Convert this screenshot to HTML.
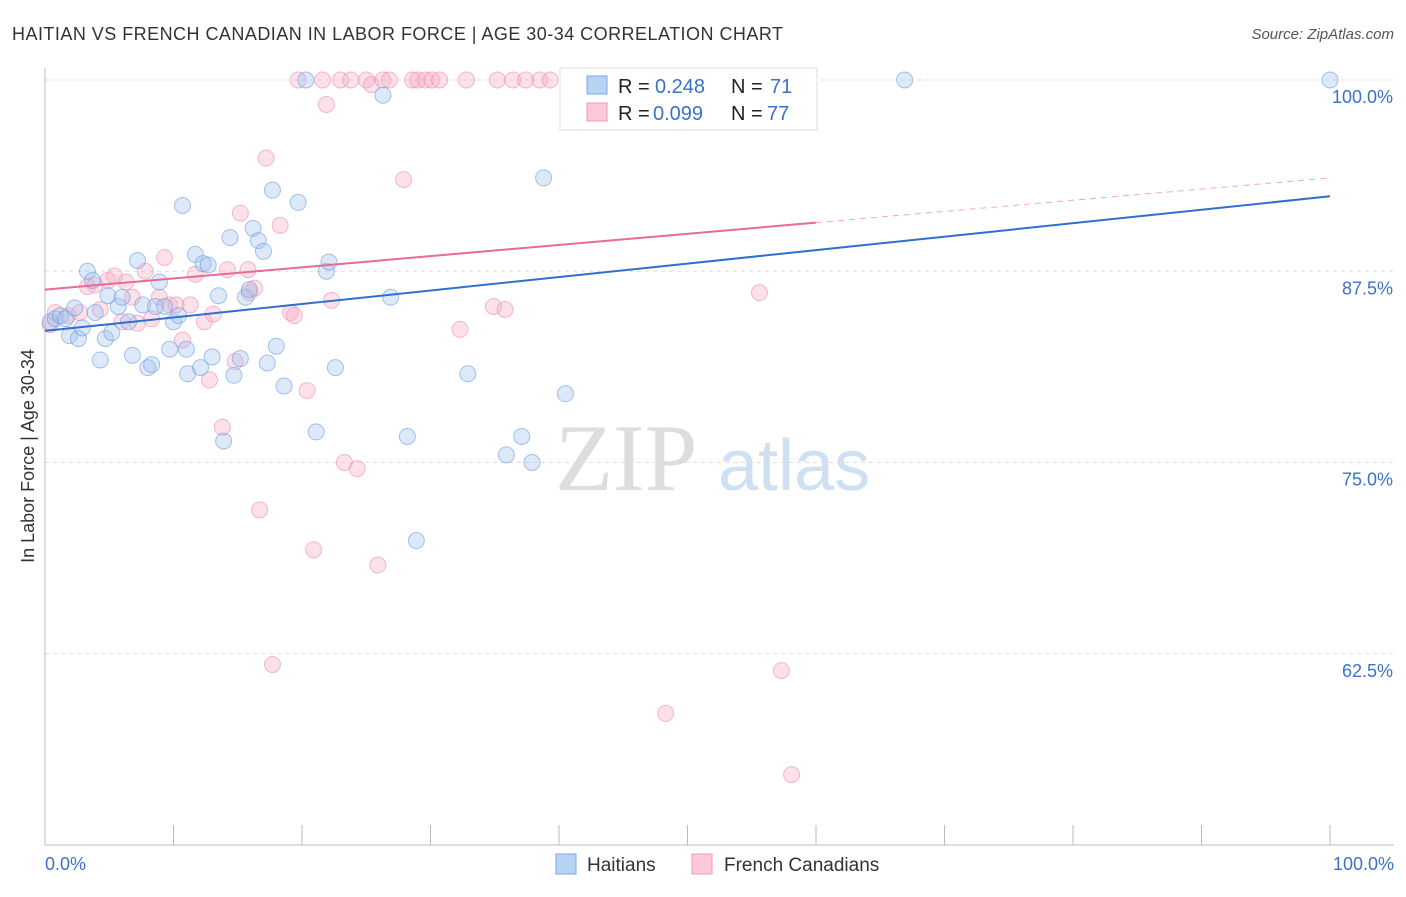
<!DOCTYPE html>
<html><head><meta charset="utf-8"><style>
body{margin:0;background:#fff;font-family:"Liberation Sans",sans-serif;}
</style></head><body>
<svg id="c" width="1406" height="892" xmlns="http://www.w3.org/2000/svg">
<text x="12" y="40" font-size="18" fill="#333" textLength="771">HAITIAN VS FRENCH CANADIAN IN LABOR FORCE | AGE 30-34 CORRELATION CHART</text>
<text x="1394" y="39" font-size="15" fill="#555" font-style="italic" text-anchor="end">Source: ZipAtlas.com</text>
<text x="555" y="490" font-size="95" fill="#ddd" font-family="Liberation Serif">ZIP</text>
<text x="718" y="490" font-size="72" fill="#cfe0f3">atlas</text>
<text transform="translate(34,456) rotate(-90)" font-size="18" fill="#333" text-anchor="middle">In Labor Force | Age 30-34</text>
<g id="grid"></g><g id="marks"></g>
<g>
<rect x="560" y="68" width="257" height="62" fill="#fff" stroke="#ddd"/>
<rect x="587" y="76" width="20" height="18" fill="#b8d2f3" stroke="#7aa8e6"/>
<rect x="587" y="103" width="20" height="18" fill="#fbc9d8" stroke="#f09ab5"/>
<text x="618" y="93" font-size="20" fill="#222">R =</text>
<text x="655" y="93" font-size="20" fill="#3a72c9">0.248</text>
<text x="731" y="93" font-size="20" fill="#222">N =</text>
<text x="770" y="93" font-size="20" fill="#3a72c9">71</text>
<text x="618" y="120" font-size="20" fill="#222">R =</text>
<text x="653" y="120" font-size="20" fill="#3a72c9">0.099</text>
<text x="731" y="120" font-size="20" fill="#222">N =</text>
<text x="767" y="120" font-size="20" fill="#3a72c9">77</text>
</g>
<g>
<rect x="556" y="854" width="20" height="20" fill="#b8d2f3" stroke="#7aa8e6"/>
<text x="587" y="871" font-size="19" fill="#333">Haitians</text>
<rect x="692" y="854" width="20" height="20" fill="#fbc9d8" stroke="#f09ab5"/>
<text x="724" y="871" font-size="19" fill="#333">French Canadians</text>
</g>
</svg>
<script>
const yTicks=[100,87.5,75,62.5];
const yTickLabels=["100.0%","87.5%","75.0%","62.5%"];
const xTickLabels=["0.0%","100.0%"];
const blueX=[0.4,0.8,1.2,1.6,1.9,2.3,2.6,2.9,3.3,3.7,3.9,4.3,4.7,4.9,5.2,5.7,6.0,6.5,6.8,7.2,7.6,8.0,8.3,8.6,8.9,9.3,9.7,10.0,10.4,10.7,11.0,11.1,11.7,12.1,12.3,12.7,13.0,13.5,13.9,14.4,14.7,15.2,15.6,15.9,16.2,16.6,17.0,17.3,17.7,18.0,18.6,19.7,20.3,21.1,21.9,22.1,22.6,26.3,26.9,28.2,28.9,32.9,35.9,37.1,37.9,38.8,40.5,66.9,100];
const blueY=[84.2,84.4,84.6,84.4,83.3,85.1,83.1,83.8,87.5,86.9,84.8,81.7,83.1,85.9,83.5,85.2,85.8,84.2,82.0,88.2,85.3,81.2,81.4,85.2,86.8,85.2,82.4,84.2,84.6,91.8,82.4,80.8,88.6,81.2,88.0,87.9,81.9,85.9,76.4,89.7,80.7,81.8,85.8,86.3,90.3,89.5,88.8,81.5,92.8,82.6,80.0,92.0,100,77.0,87.5,88.1,81.2,99.0,85.8,76.7,69.9,80.8,75.5,76.7,75.0,93.6,79.5,100,100];
const pinkX=[0.4,0.8,1.8,2.7,3.3,3.9,4.3,4.9,5.4,6.0,6.3,6.8,7.2,7.8,8.3,8.9,9.3,9.7,10.2,10.7,11.3,11.7,12.4,12.8,13.1,13.8,14.2,14.8,15.2,15.8,15.9,16.3,16.7,17.2,17.7,18.3,19.1,19.4,19.7,20.4,20.9,21.6,21.9,22.3,23.0,23.3,23.8,24.3,25.0,25.4,25.9,26.3,26.8,27.9,28.6,29.0,29.6,30.1,30.7,32.8,32.3,34.9,35.2,35.8,36.4,37.4,38.5,39.3,41.9,43.2,44.7,46.7,48.3,55.6,57.3,58.1];
const pinkY=[84.0,84.8,84.6,84.8,86.5,86.6,85.0,86.9,87.2,84.2,86.8,85.8,84.1,87.5,84.4,85.8,88.4,85.3,85.3,83.0,85.3,87.3,84.2,80.4,84.7,77.3,87.6,81.6,91.3,87.6,86.1,86.4,71.9,94.9,61.8,90.5,84.8,84.6,100,79.7,69.3,100,98.4,85.6,100,75.0,100,74.6,100,99.7,68.3,100,100,93.5,100,100,100,100,100,100,83.7,85.2,100,85.0,100,100,100,100,100,100,100,100,58.6,86.1,61.4,54.6];
const blueTrend=[83.6,92.4];
const pinkTrend=[86.3,93.6];
const pinkSolidEnd=60;
const NS="http://www.w3.org/2000/svg";
const X=v=>45+v*12.85, Y=v=>80+(100-v)*15.3;
const grid=document.getElementById('grid'), marks=document.getElementById('marks');
function mk(p,tag,a){const e=document.createElementNS(NS,tag);for(const k in a)e.setAttribute(k,a[k]);p.appendChild(e);return e;}
yTicks.forEach((t,i)=>{
 const l=mk(grid,'line',{x1:45,x2:1394,y1:Y(t),y2:Y(t),stroke:'#ddd','stroke-dasharray':'4,4'});
 
 
 const tx=mk(grid,'text',{x:1393,y:Y(t)+23,'font-size':18,fill:'#3a72c9','text-anchor':'end'});
 tx.textContent=yTickLabels[i];
 
 
});
const ax=mk(grid,'line',{x1:45,x2:1394,y1:845,y2:845,stroke:'#bbb'});


const ay=mk(grid,'line',{x1:45,x2:45,y1:68,y2:845,stroke:'#bbb'});


for(let i=0;i<=10;i++){const t=mk(grid,'line',{x1:X(i*10),x2:X(i*10),y1:825,y2:845,stroke:'#bbb'});
 
 }
[[0,'start',45],[100,'end',1394]].forEach((d,i)=>{const t=mk(grid,'text',{x:d[2],y:870,'font-size':18,fill:'#3a72c9','text-anchor':d[1]});
 t.textContent=xTickLabels[i];
 
 });
function pts(xs,ys,fill,stroke,name){xs.forEach((x,i)=>{const c=mk(marks,'circle',{cx:X(x),cy:Y(ys[i]),r:8,fill:fill,'fill-opacity':0.35,stroke:stroke,'stroke-opacity':0.6});
 
 });}
pts(pinkX,pinkY,'#f7a9c2','#ec8fae','french-canadian-point');
pts(blueX,blueY,'#9fc1ee','#6b9ce0','haitian-point');
const bl=mk(marks,'line',{x1:X(0),y1:Y(blueTrend[0]),x2:X(100),y2:Y(blueTrend[1]),stroke:'#2f6fd0','stroke-width':2});


const pm=pinkTrend[0]+(pinkTrend[1]-pinkTrend[0])*pinkSolidEnd/100;
const pl=mk(marks,'line',{x1:X(0),y1:Y(pinkTrend[0]),x2:X(pinkSolidEnd),y2:Y(pm),stroke:'#e86a96','stroke-width':2});


const pd=mk(marks,'line',{x1:X(pinkSolidEnd),y1:Y(pm),x2:X(100),y2:Y(pinkTrend[1]),stroke:'#e86a96','stroke-width':1,'stroke-dasharray':'6,5','stroke-opacity':0.6});


</script>
</body></html>
